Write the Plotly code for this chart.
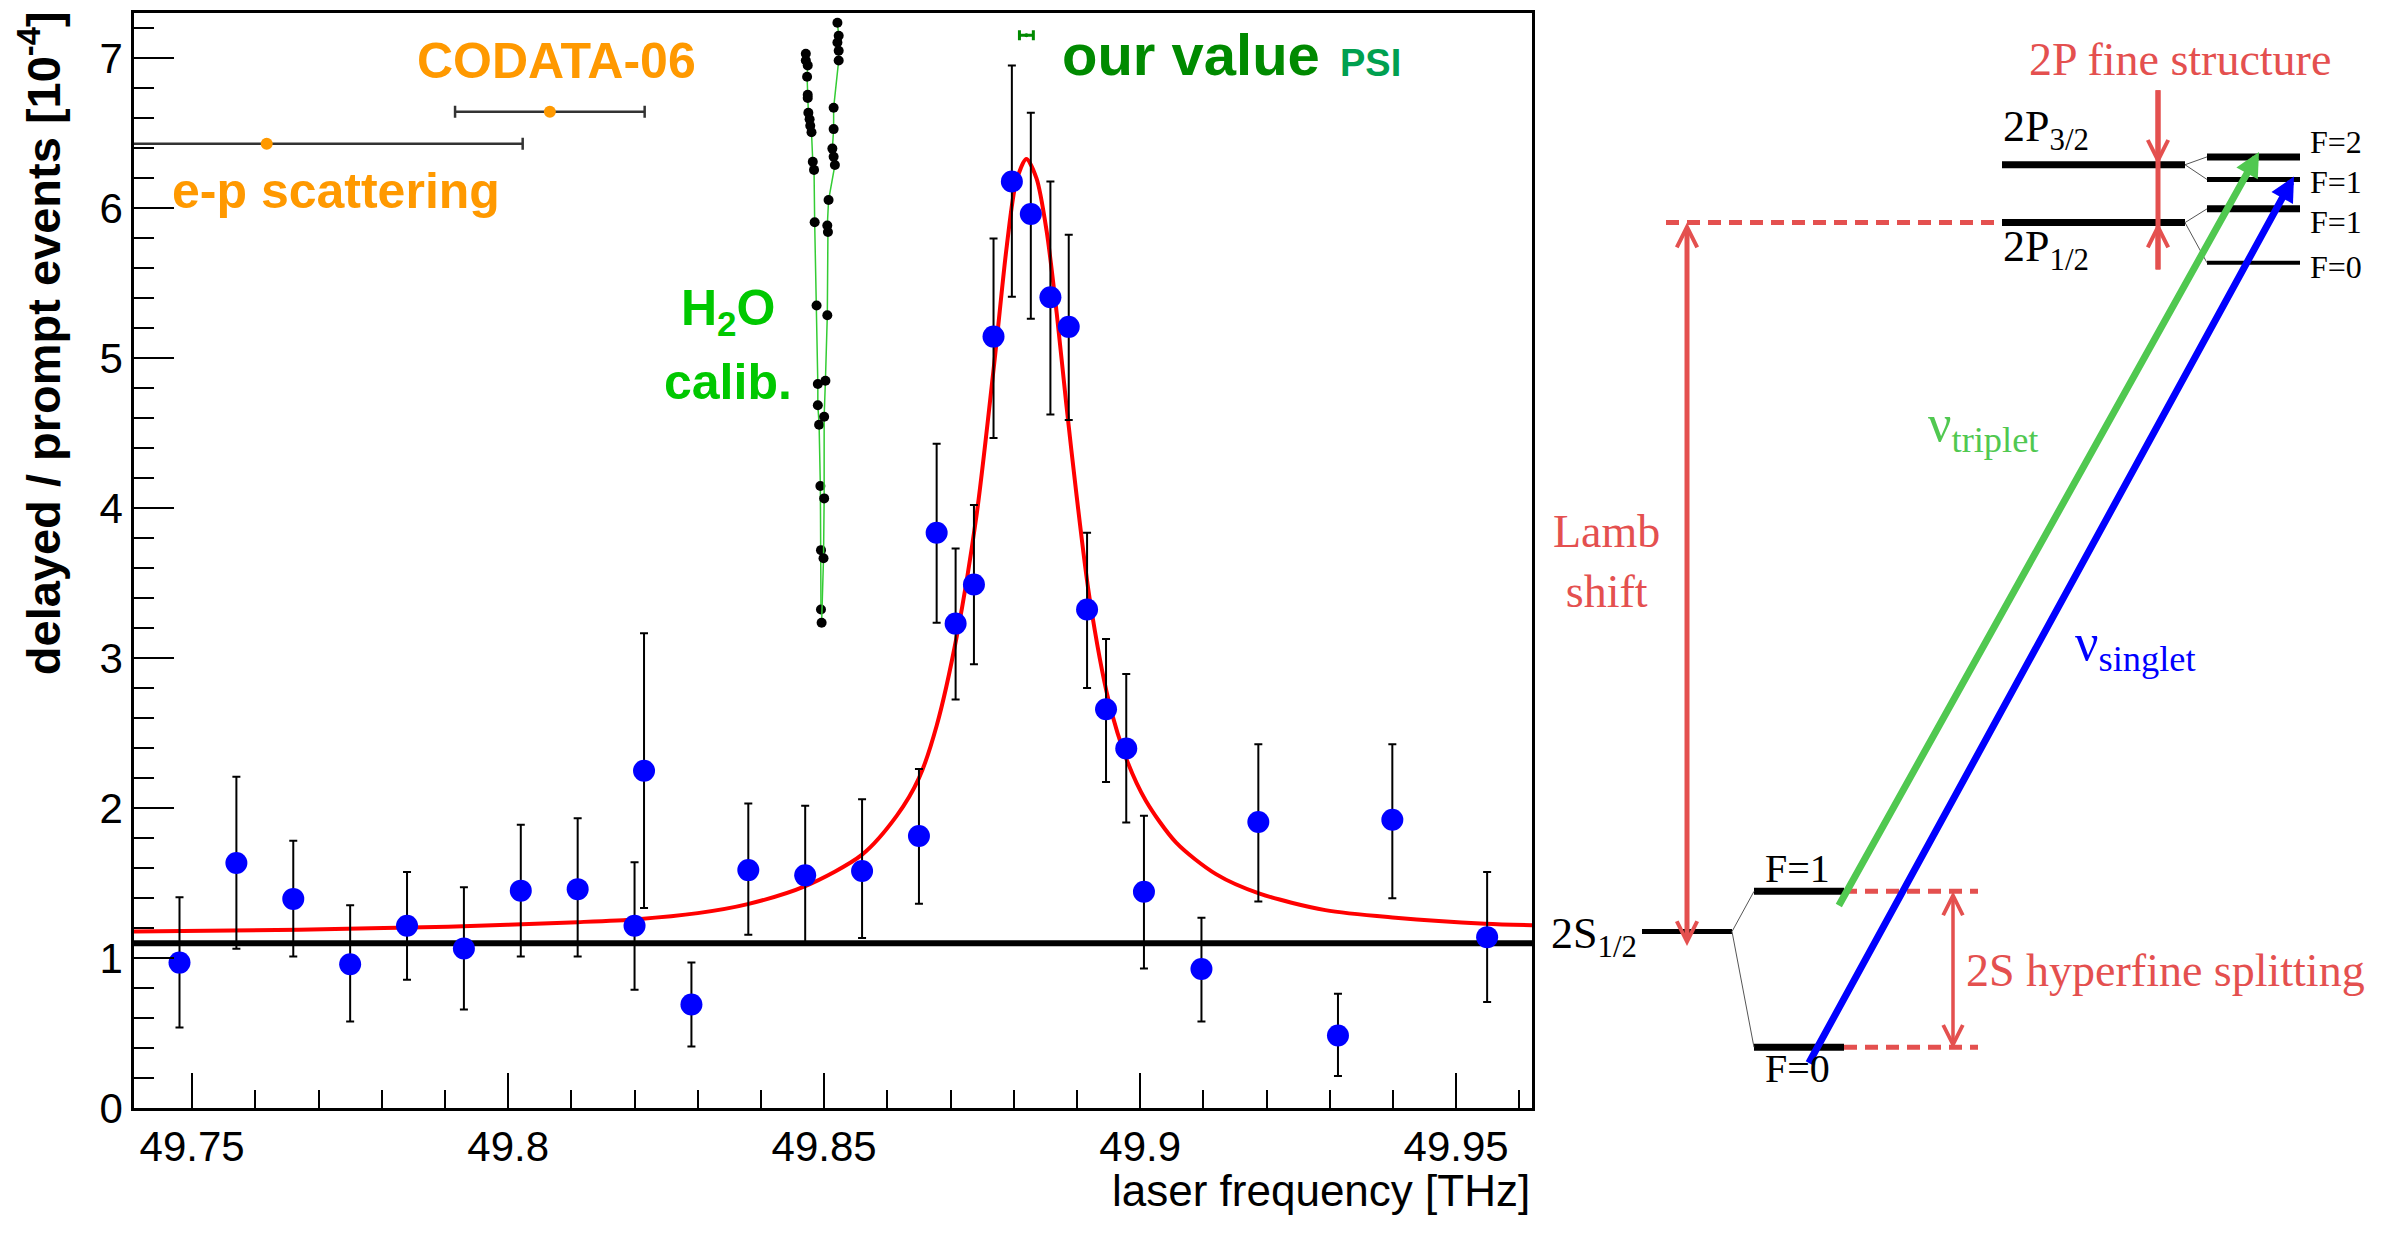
import plotly.graph_objects as go

W, H = 2386, 1236

# ---------------- data ----------------
freq = [49.748, 49.757, 49.766, 49.775, 49.784, 49.793, 49.802, 49.811, 49.820, 49.8215,
        49.829, 49.838, 49.847, 49.856, 49.865, 49.8678, 49.8708, 49.8737, 49.8768, 49.8797,
        49.8827, 49.8858, 49.8887, 49.8916, 49.8946, 49.8978, 49.9006, 49.9097, 49.9187,
        49.9313, 49.9399, 49.9549]
ratio = [0.970, 1.635, 1.395, 0.959, 1.216, 1.064, 1.450, 1.460, 1.216, 2.250,
         0.691, 1.587, 1.552, 1.581, 1.815, 3.837, 3.231, 3.492, 5.145, 6.180,
         5.963, 5.407, 5.210, 3.325, 2.660, 2.398, 1.443, 0.927, 1.908,
         0.484, 1.923, 1.140]
err_hi = [1.406, 2.209, 1.783, 1.352, 1.574, 1.472, 1.890, 1.933, 1.640, 3.167,
          0.970, 2.032, 2.017, 2.060, 2.262, 4.430, 3.732, 4.022, 5.799, 6.954,
          6.638, 6.180, 5.825, 3.837, 3.129, 2.895, 1.950, 1.269, 2.427,
          0.763, 2.427, 1.574]
err_lo = [0.538, 1.063, 1.010, 0.578, 0.855, 0.658, 1.010, 1.010, 0.789, 1.334,
          0.410, 1.156, 1.091, 1.134, 1.363, 3.237, 2.725, 2.960, 4.469, 5.411,
          5.265, 4.626, 4.589, 2.802, 2.175, 1.905, 0.930, 0.578, 1.378,
          0.214, 1.400, 0.708]

fit_x = [49.7408, 49.7669, 49.7905, 49.8110, 49.8205, 49.8300, 49.8379, 49.8470, 49.8560,
         49.8615, 49.8650, 49.8678, 49.8710, 49.8741, 49.8770, 49.8789, 49.8804, 49.8820,
         49.8836, 49.8852, 49.8868, 49.8883, 49.8899, 49.8920, 49.8950, 49.8979, 49.9009,
         49.9057, 49.9120, 49.9189, 49.9293, 49.9404, 49.9546, 49.9620]
fit_y = [1.177, 1.19, 1.21, 1.24, 1.26, 1.30, 1.36, 1.48, 1.69,
         1.95, 2.20, 2.55, 3.15, 3.95, 5.00, 5.75, 6.18, 6.33,
         6.20, 5.85, 5.30, 4.70, 4.10, 3.40, 2.72, 2.32, 2.05,
         1.77, 1.56, 1.43, 1.32, 1.27, 1.23, 1.22]
bg_level = 1.10

h2o_left_x = [49.8471, 49.8471, 49.8474, 49.8473, 49.8474, 49.8474, 49.8475, 49.8477, 49.8478,
              49.8480, 49.8482, 49.8484, 49.8485, 49.8488, 49.8490, 49.8490, 49.8492, 49.8494,
              49.8495, 49.8495]
h2o_left_y = [7.031, 6.987, 6.954, 6.878, 6.758, 6.736, 6.638, 6.595, 6.551,
              6.508, 6.311, 6.257, 5.908, 5.352, 4.829, 4.687, 4.557, 4.149,
              3.721, 3.325]
h2o_right_x = [49.8521, 49.8523, 49.8521, 49.8523, 49.8523, 49.8515, 49.8515, 49.8513, 49.8515,
               49.8517, 49.8507, 49.8505, 49.8506, 49.8505, 49.8502, 49.8500, 49.8500, 49.8499,
               49.8496]
h2o_right_y = [7.238, 7.151, 7.107, 7.052, 6.987, 6.671, 6.529, 6.399, 6.344,
               6.290, 6.056, 5.886, 5.843, 5.287, 4.851, 4.611, 4.066, 3.667,
               3.237]

ref_names = ["e-p scattering", "CODATA-06"]
ref_x = [49.7618, 49.8066]
ref_y = [6.431, 6.644]
ref_err = [0.0405, 0.0150]

our_x = [49.8820]
our_y = [7.155]
our_err = [0.0011]

x_range = [49.7408, 49.962]
y_range = [0, 7.305]
x_tick_vals = [49.75, 49.80, 49.85, 49.90, 49.95]
x_tick_text = ["49.75", "49.8", "49.85", "49.9", "49.95"]
y_tick_vals = [0, 1, 2, 3, 4, 5, 6, 7]
y_tick_text = ["0", "1", "2", "3", "4", "5", "6", "7"]

# ---------------- styles ----------------
SANS = "Liberation Sans, Arial, sans-serif"
SERIF = "Liberation Serif, Times New Roman, serif"
ORANGE = "#ff9900"
RED_D = "#e4504f"
GREEN_A = "#50c850"
BLUE_A = "#0000ff"


def P(xpx):
    return xpx / W


def Q(ypx):
    return 1 - ypx / H


fig = go.Figure()

fig.add_trace(go.Scatter(x=x_range, y=[bg_level, bg_level], mode="lines",
                         line=dict(color="black", width=6), hoverinfo="skip"))
fig.add_trace(go.Scatter(x=fit_x, y=fit_y, mode="lines",
                         line=dict(color="#ff0000", width=4, shape="spline", smoothing=0.8)))
for hx, hy in [(h2o_left_x, h2o_left_y), (h2o_right_x, h2o_right_y)]:
    fig.add_trace(go.Scatter(x=hx, y=hy, mode="lines+markers",
                             line=dict(color="#33cc33", width=1.5),
                             marker=dict(color="black", size=10)))
fig.add_trace(go.Scatter(
    x=freq, y=ratio, mode="markers",
    marker=dict(color="#0000ff", size=22),
    error_y=dict(type="data", symmetric=False,
                 array=[h - r for h, r in zip(err_hi, ratio)],
                 arrayminus=[r - l for r, l in zip(ratio, err_lo)],
                 color="black", thickness=2, width=4)))
fig.add_trace(go.Scatter(
    x=ref_x, y=ref_y, mode="markers", marker=dict(color=ORANGE, size=12),
    error_x=dict(type="data", array=ref_err, color="#333333", thickness=2.5, width=6)))
fig.add_trace(go.Scatter(
    x=our_x, y=our_y, mode="markers", marker=dict(color="#008a00", size=4),
    error_x=dict(type="data", array=our_err, color="#008a00", thickness=3, width=5)))

axis_common = dict(ticks="inside", tickwidth=2, tickcolor="black", showline=True,
                   linecolor="black", linewidth=2.5, mirror=True, showgrid=False,
                   zeroline=False, tickfont=dict(family=SANS, size=42, color="black"))

fig.update_layout(
    width=W, height=H, margin=dict(l=0, r=0, t=0, b=0),
    paper_bgcolor="white", plot_bgcolor="rgba(0,0,0,0)", showlegend=False,
    xaxis=dict(domain=[P(134), P(1532)], range=x_range, tickmode="array",
               tickvals=x_tick_vals, ticktext=x_tick_text, ticklen=35,
               minor=dict(tickmode="linear", tick0=49.75, dtick=0.01, ticks="inside",
                          ticklen=18, tickwidth=2, tickcolor="black"),
               **axis_common),
    yaxis=dict(domain=[Q(1130), Q(13)], range=y_range, tickmode="array",
               tickvals=y_tick_vals, ticktext=y_tick_text, ticklen=40,
               minor=dict(tickmode="linear", tick0=0, dtick=0.2, ticks="inside",
                          ticklen=20, tickwidth=2, tickcolor="black"),
               **axis_common),
)

ann = []


def text(xp, yp, s, family, size, color, bold=False, xanchor="center", angle=0):
    ann.append(dict(x=P(xp), y=Q(yp), xref="paper", yref="paper", text=s, showarrow=False,
                    xanchor=xanchor, yanchor="middle", textangle=angle,
                    font=dict(family=family, size=size, color=color,
                              weight="bold" if bold else "normal")))


# main chart texts
text(40, 350, "delayed / prompt events [10<sup>-4</sup>]", SANS, 47, "black", True, angle=-90)
text(1532, 1214, "laser frequency [THz]", SANS, 44, "black", xanchor="right")
text(556, 62, ref_names[1], SANS, 50, ORANGE, True)
text(336, 195, ref_names[0], SANS, 50, ORANGE, True)
text(728, 318, "H<sub>2</sub>O", SANS, 50, "#00c800", True)
text(728, 390, "calib.", SANS, 50, "#00c800", True)
text(1060, 56, "our value", SANS, 58, "#008a00", True, xanchor="left")
text(1338, 64, "PSI", SANS, 38, "#00a050", True, xanchor="left")

# ---------------- level diagram ----------------
shapes = []


def seg(x0, y0, x1, y1, color="black", width=7, dash=None):
    shapes.append(dict(type="line", xref="paper", yref="paper", x0=P(x0), y0=Q(y0),
                       x1=P(x1), y1=Q(y1), line=dict(color=color, width=width, dash=dash)))


# levels
seg(2002, 168, 2185, 168)
seg(2002, 227, 2185, 227)
seg(2207, 160, 2300, 160)
seg(2207, 183, 2300, 183, width=5)
seg(2207, 213, 2300, 213)
seg(2207, 268, 2300, 268, width=4)
seg(1642, 950, 1732, 950, width=5)
seg(1754, 909, 1844, 909)
seg(1754, 1068, 1844, 1068)
# connectors
for a in [(2185, 168, 2207, 160), (2185, 168, 2207, 183), (2185, 227, 2207, 213),
          (2185, 227, 2207, 268), (1732, 950, 1754, 909), (1732, 950, 1754, 1068)]:
    seg(*a, color="#555555", width=1)
# dashed red
seg(1666, 227, 1999, 227, color=RED_D, width=5, dash="13px,8px")
seg(1844, 909, 1978, 909, color=RED_D, width=5, dash="13px,8px")
seg(1844, 1068, 1978, 1068, color=RED_D, width=5, dash="13px,8px")
# fine structure line
seg(2158, 92, 2158, 275, color=RED_D, width=5)


def arrow(x, y, x0, y0, color, width, head, size, both=False):
    d = dict(x=P(x), y=Q(y), xref="paper", yref="paper", ax=x0 - x, ay=y0 - y,
             text="", showarrow=True, arrowhead=head, arrowsize=size, arrowwidth=width,
             arrowcolor=color, standoff=0, startstandoff=0)
    if both:
        d.update(arrowside="end+start", startarrowhead=head, startarrowsize=size)
    ann.append(d)


arrow(1687, 227, 1687, 952, RED_D, 5, 5, 0.8, both=True)
arrow(2158, 168, 2158, 92, RED_D, 5, 5, 0.8)
arrow(2158, 227, 2158, 275, RED_D, 5, 5, 0.8)
arrow(1953, 909, 1953, 1068, RED_D, 3.5, 5, 1.1, both=True)
arrow(2259, 155, 1838, 910, GREEN_A, 7, 2, 0.7)
arrow(2294, 180, 1808, 1068, BLUE_A, 7, 2, 0.7)

text(2180, 61, "2P fine structure", SERIF, 46, RED_D)
text(2001, 132, "2P<sub>3/2</sub>", SERIF, 44, "black", xanchor="left")
text(2001, 254, "2P<sub>1/2</sub>", SERIF, 44, "black", xanchor="left")
text(2308, 145, "F=2", SERIF, 32, "black", xanchor="left")
text(2308, 186, "F=1", SERIF, 32, "black", xanchor="left")
text(2308, 226, "F=1", SERIF, 32, "black", xanchor="left")
text(2308, 272, "F=0", SERIF, 32, "black", xanchor="left")
text(1606, 573, "Lamb<br>shift", SERIF, 46, RED_D)
text(1926, 436, "ν<sub>triplet</sub>", SERIF, 52, GREEN_A, xanchor="left")
text(2073, 659, "ν<sub>singlet</sub>", SERIF, 52, BLUE_A, xanchor="left")
text(1549, 955, "2S<sub>1/2</sub>", SERIF, 44, "black", xanchor="left")
text(1797, 886, "F=1", SERIF, 40, "black")
text(1797, 1090, "F=0", SERIF, 40, "black")
text(1964, 990, "2S hyperfine splitting", SERIF, 46, RED_D, xanchor="left")

fig.update_layout(annotations=ann, shapes=shapes)

fig.write_html("out.html", config={"displayModeBar": False},
               post_script="document.body.style.margin='0px';document.body.style.overflow='hidden';")
